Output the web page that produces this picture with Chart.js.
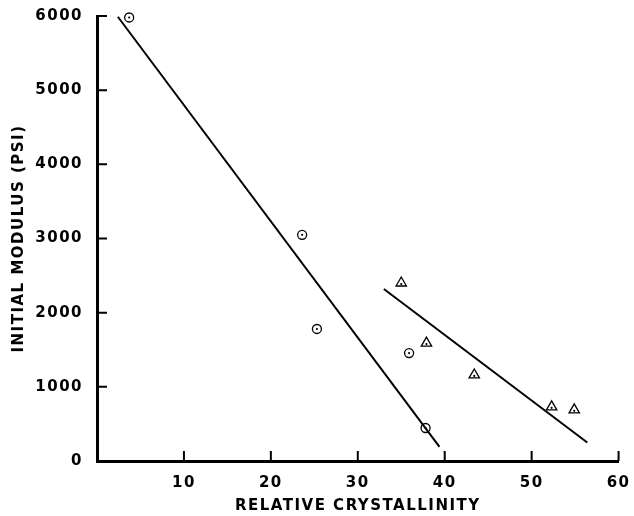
<!DOCTYPE html>
<html>
<head>
<meta charset="utf-8">
<script src="https://cdn.jsdelivr.net/npm/chart.js@4"></script>
<style>
  html, body { margin: 0; padding: 0; background: #fff; }
  #wrap { width: 634px; height: 516px; }
</style>
</head>
<body>
<div id="wrap"><canvas id="modulusChart" width="634" height="516"></canvas></div>
<script>
//---------------------------------------------
// DATA
//---------------------------------------------
const circleX = [3.7, 23.6, 25.3, 35.9, 37.8];
const circleY = [5980, 3050, 1780, 1455, 445];

const triangleX = [35.0, 37.9, 43.4, 52.3, 54.9];
const triangleY = [2400, 1590, 1160, 730, 690];

const fitAX = [2.4, 39.4];
const fitAY = [5990, 190];
const fitBX = [33.0, 56.4];
const fitBY = [2320, 250];

const xTicks = [10, 20, 30, 40, 50, 60];
const yTicks = [0, 1000, 2000, 3000, 4000, 5000, 6000];

const xTitle = "RELATIVE CRYSTALLINITY";
const yTitle = "INITIAL MODULUS (PSI)";

function toPoints(xs, ys) {
    return xs.map((x, i) => ({ x: x, y: ys[i] }));
}

//---------------------------------------------
// PLUGIN: wide lettering, inward ticks, marker dots
//---------------------------------------------
const inwardTicks = {
    id: "inwardTicks",
    beforeDraw(chart) {
        // the old typeset labels are widely spaced
        chart.ctx.letterSpacing = "1.5px";
    },
    afterDraw(chart) {
        const ctx = chart.ctx;
        const xs = chart.scales.x;
        const ys = chart.scales.y;
        const area = chart.chartArea;
        ctx.save();
        ctx.strokeStyle = "#000";
        ctx.lineWidth = 2;
        ctx.beginPath();
        xTicks.forEach(v => {
            let px = xs.getPixelForValue(v);
            ctx.moveTo(px, area.bottom);
            ctx.lineTo(px, area.bottom - 10);
        });
        yTicks.forEach(v => {
            if (v === 0) return;
            let py = ys.getPixelForValue(v);
            ctx.moveTo(area.left, py);
            ctx.lineTo(area.left + 10, py);
        });
        ctx.stroke();

        ctx.fillStyle = "#000";
        chart.data.datasets.forEach((ds, i) => {
            if (!ds.centerDot) return;
            chart.getDatasetMeta(i).data.forEach(pt => {
                ctx.beginPath();
                ctx.arc(pt.x, pt.y + (ds.dotShift || 0), 1.1, 0, 2 * Math.PI);
                ctx.fill();
            });
        });
        ctx.restore();
    }
};

//---------------------------------------------
// RENDER CHART
//---------------------------------------------
function renderChart() {
    const ctx = document.getElementById("modulusChart").getContext("2d");
    const tickFont = { family: "DejaVu Sans", weight: "bold", size: 15 };
    const titleFont = { family: "DejaVu Sans", weight: "bold", size: 15 };

    new Chart(ctx, {
        type: "scatter",
        data: {
            datasets: [
                {
                    type: "line", data: toPoints(fitAX, fitAY),
                    borderColor: "#000", borderWidth: 2, pointRadius: 0, fill: false, clip: false
                },
                {
                    type: "line", data: toPoints(fitBX, fitBY),
                    borderColor: "#000", borderWidth: 2, pointRadius: 0, fill: false, clip: false
                },
                {
                    data: toPoints(circleX, circleY), centerDot: true,
                    pointStyle: "circle", pointRadius: 4.5,
                    backgroundColor: "#fff", borderColor: "#000", borderWidth: 1.3, clip: false
                },
                {
                    data: toPoints(triangleX, triangleY), centerDot: true, dotShift: 1,
                    pointStyle: "triangle", pointRadius: 6,
                    backgroundColor: "#fff", borderColor: "#000", borderWidth: 1.3, clip: false
                }
            ]
        },
        options: {
            responsive: false,
            animation: false,
            layout: { padding: { top: 16, right: 12, left: 0, bottom: 0 } },
            plugins: { legend: { display: false }, tooltip: { enabled: false } },
            scales: {
                x: {
                    type: "linear", min: 0, max: 60,
                    afterFit: s => { s.height = 55; },
                    afterBuildTicks: s => { s.ticks = xTicks.map(v => ({ value: v })); },
                    grid: { display: false },
                    border: { display: true, color: "#000", width: 3 },
                    ticks: { color: "#000", font: tickFont, padding: 5, maxRotation: 0, callback: v => String(v) },
                    title: { display: true, text: xTitle, color: "#000", font: titleFont, padding: { top: 2, bottom: 1 } }
                },
                y: {
                    type: "linear", min: 0, max: 6000,
                    afterFit: s => { s.width = 97; },
                    afterBuildTicks: s => { s.ticks = yTicks.map(v => ({ value: v })); },
                    grid: { display: false },
                    border: { display: true, color: "#000", width: 3 },
                    ticks: { color: "#000", font: tickFont, padding: 6, callback: v => String(v) },
                    title: { display: true, text: yTitle, color: "#000", font: titleFont, padding: { top: 10, bottom: 0 } }
                }
            }
        },
        plugins: [inwardTicks]
    });
}

//---------------------------------------------
// INIT ON PAGE LOAD
//---------------------------------------------
document.addEventListener("DOMContentLoaded", () => {
    renderChart();
});
</script>
</body>
</html>
